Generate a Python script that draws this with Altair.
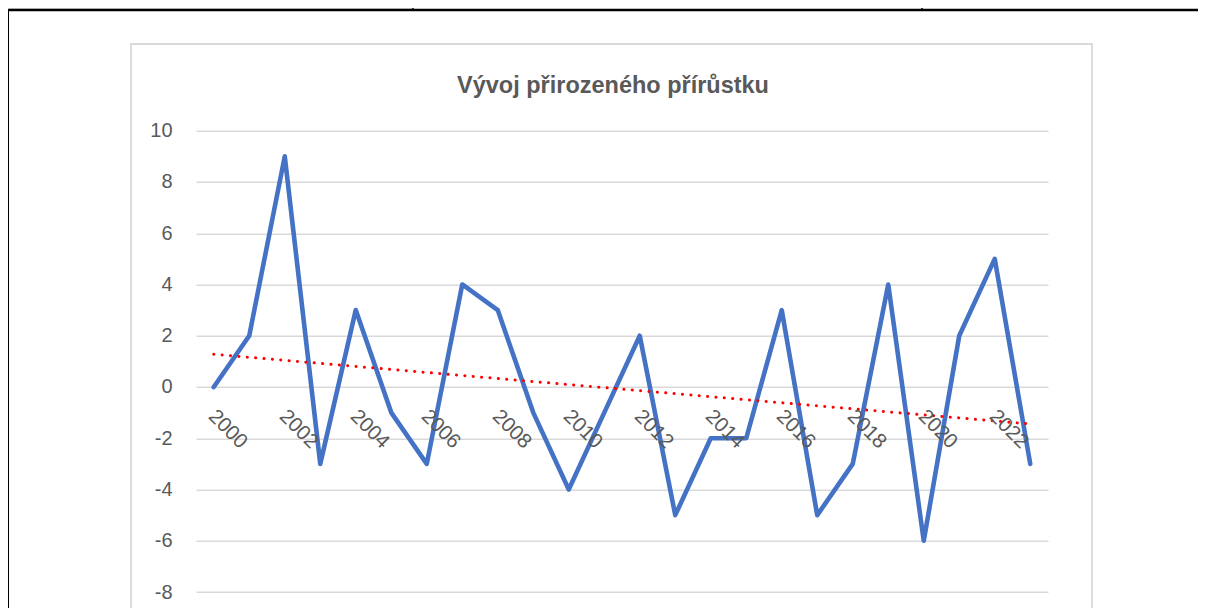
import altair as alt
import pandas as pd

# ---- data ----
years = list(range(2000, 2024))
values = [0, 2, 9, -3, 3, -1, -3, 4, 3, -1, -4, -1, 2, -5, -2, -2, 3, -5, -3, 4, -6, 2, 5, -3]
y_ticks = [-8, -6, -4, -2, 0, 2, 4, 6, 8, 10]
x_label_years = list(range(2000, 2024, 2))
title_text = "Vývoj přirozeného přírůstku"

df = pd.DataFrame({"rok": years, "hodnota": values})
lab = pd.DataFrame({"rok": x_label_years,
                    "y": [0] * len(x_label_years),
                    "t": [str(v) for v in x_label_years]})
one = pd.DataFrame({"k": [0]})

# ---- layout ----
PW, PH = 852, 477
YR = 512.6
FONT = "Liberation Sans"
GRAY = "#595959"
GRID = "#d9d9d9"

xs = alt.Scale(domain=[1999.5, 2023.5], nice=False, zero=False)
ys = alt.Scale(domain=[-10, 10], range=[YR, 0], nice=False, zero=False)

yaxis = alt.Axis(values=y_ticks, grid=True, gridColor=GRID, gridWidth=1.5,
                 domain=False, ticks=False, labelPadding=24, labelFontSize=20,
                 labelColor=GRAY, labelFont=FONT, title=None,
                 labelExpr="'' + datum.value")

X = alt.X("rok:Q", scale=xs, axis=None)

line = alt.Chart(df).mark_line(
    color="#4472C4", strokeWidth=4.6, strokeCap="round", strokeJoin="round"
).encode(x=X, y=alt.Y("hodnota:Q", scale=ys, axis=yaxis))

trend = alt.Chart(df).transform_regression("rok", "hodnota").mark_line(
    color="#FF0000", strokeWidth=3, strokeDash=[0.1, 8.3], strokeCap="round"
).encode(x=X, y=alt.Y("hodnota:Q", scale=ys, axis=yaxis))

labels = alt.Chart(lab).mark_text(
    angle=45, align="left", baseline="top", dx=17, dy=10,
    fontSize=20.5, font=FONT, color=GRAY
).encode(x=X, y=alt.Y("y:Q", scale=ys, axis=yaxis), text="t:N")

title = alt.Chart(one).mark_text(
    text=title_text, fontSize=23.5, fontWeight="bold", font=FONT, color=GRAY,
    align="center", baseline="alphabetic"
).encode(x=alt.value(417), y=alt.value(-37.7))

border = alt.Chart(one).mark_rect(
    fillOpacity=0, stroke=GRID, strokeWidth=1.8
).encode(x=alt.value(-65), x2=alt.value(896), y=alt.value(-86.7), y2=alt.value(700))

doc_left = alt.Chart(one).mark_rule(color="black", strokeWidth=2).encode(
    x=alt.value(-188), y=alt.value(-121), y2=alt.value(700))
doc_top = alt.Chart(one).mark_rule(color="black", strokeWidth=2.5).encode(
    x=alt.value(-188), x2=alt.value(1010), y=alt.value(-120.7))
doc_cell = alt.Chart(one).mark_rect(color="#d9d9d9").encode(
    x=alt.value(-187), x2=alt.value(216), y=alt.value(-123), y2=alt.value(-122))
doc_v1 = alt.Chart(one).mark_rule(color="black", strokeWidth=1.5).encode(
    x=alt.value(217), y=alt.value(-123), y2=alt.value(-120))
doc_v2 = alt.Chart(one).mark_rule(color="black", strokeWidth=1.5).encode(
    x=alt.value(726), y=alt.value(-123), y2=alt.value(-120))

chart = alt.layer(
    line, trend, labels, border, doc_cell, doc_left, doc_top, doc_v1, doc_v2, title
).properties(
    width=PW, height=PH,
    padding={"left": 188, "top": 122.7, "right": 150, "bottom": 0},
    autosize=alt.AutoSizeParams(type="none"),
    background="white",
).configure_view(stroke=None)

chart.save("out.html", embed_options={"renderer": "svg", "actions": False})
